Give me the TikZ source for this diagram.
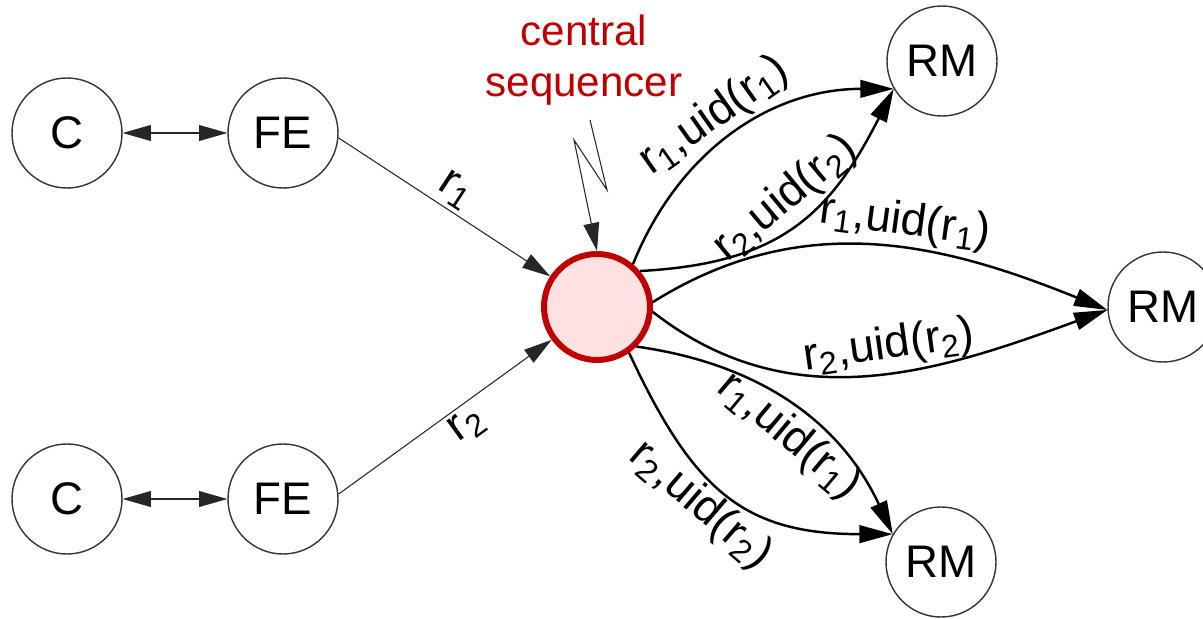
\documentclass[tikz,border=0pt]{standalone}
\usepackage{fontspec}
\setmainfont{Liberation Sans}
\usetikzlibrary{arrows.meta}
\definecolor{seqred}{HTML}{C00000}
\definecolor{seqpink}{HTML}{FFE1E1}

\begin{document}
\begin{tikzpicture}[
  >={Triangle[length=16pt,width=9pt]},
  font=\fontsize{26}{31}\selectfont,
  % Node styles
  proc/.style={circle, draw=black!80, line width=0.8pt, minimum size=2.2cm, inner sep=0pt},
  sequencer/.style={circle, draw=seqred, line width=3.4pt, fill=seqpink, minimum size=2.12cm, inner sep=0pt},
  % Edge styles
  req/.style={->, draw=black!85, line width=0.6pt},
  order/.style={->, line width=1.4pt, >={Triangle[length=19pt,width=10pt]}},
  lbl/.style={sloped, inner sep=2pt}
]

% frame of the picture
\clip (0,0) rectangle (24.06,-12.38);

% =========================
% Clients and front ends
% =========================
\node[proc] (c1)  at (1.34,-2.66) {C};
\node[proc] (fe1) at (5.66,-2.66) {FE};
\node[proc] (c2)  at (1.34,-9.98) {C};
\node[proc] (fe2) at (5.66,-9.98) {FE};

\draw[req, <->] (c1) -- (fe1);
\draw[req, <->] (c2) -- (fe2);

% =========================
% Central sequencer
% =========================
\node[sequencer] (seq) at (11.94,-6.14) {};
\node[text=seqred, align=center, font=\fontsize{24}{29}\selectfont] (seqname) at (11.68,-1.2) {central\\sequencer};

% lightning mark
\coordinate (bolt1) at (11.80,-2.40);
\coordinate (bolt2) at (12.14,-3.80);
\coordinate (bolt3) at (11.48,-2.80);
\draw[req] (bolt1) -- (bolt2) -- (bolt3) -- (seq.north);

\draw[req] (fe1.-5) -- node[lbl, above, pos=0.5] {r\textsubscript{1}} (seq);
\draw[req] (fe2.5)  -- node[lbl, below, pos=0.55] {r\textsubscript{2}} (seq);

% =========================
% Replica managers
% =========================
\node[proc] (rm1) at (18.84,-1.22) {RM};
\node[proc] (rm2) at (23.26,-6.14) {RM};
\node[proc] (rm3) at (18.82,-11.24) {RM};

% to the top RM
\draw[order] (seq.50) to[out=68, in=180]
  node[lbl, above, pos=0.48] {r\textsubscript{1},uid(r\textsubscript{1})} (rm1.210);
\draw[order] (seq.40) to[out=3, in=243, looseness=1.15]
  node[lbl, above, pos=0.53] {r\textsubscript{2},uid(r\textsubscript{2})} (rm1.210);

% to the middle RM
\draw[order] (seq.5) to[out=32, in=158]
  node[lbl, above, pos=0.56] {r\textsubscript{1},uid(r\textsubscript{1})} (rm2.183);
\draw[order] (seq.-5) to[out=-38, in=200]
  node[lbl, above, pos=0.55] {r\textsubscript{2},uid(r\textsubscript{2})} (rm2.183);

% to the bottom RM
\draw[order] (seq.-45) to[out=-8, in=115]
  node[lbl, below, pos=0.56] {r\textsubscript{1},uid(r\textsubscript{1})} (rm3.150);
\draw[order] (seq.-55) to[out=-65, in=180, looseness=1.2]
  node[lbl, below, pos=0.45] {r\textsubscript{2},uid(r\textsubscript{2})} (rm3.150);

\end{tikzpicture}
\end{document}
